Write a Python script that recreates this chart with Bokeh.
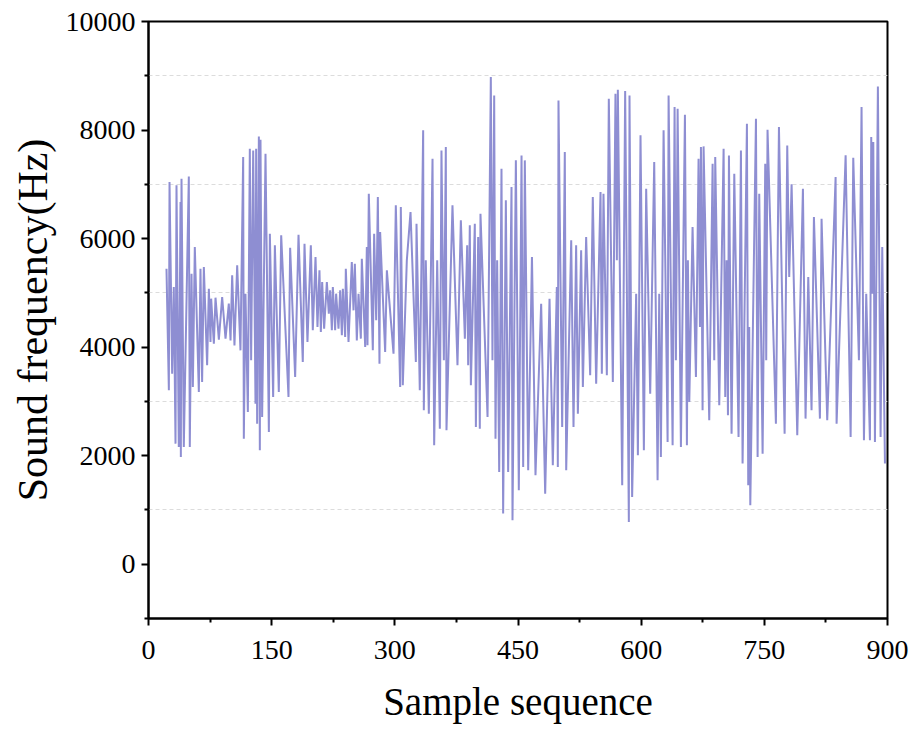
from bokeh.plotting import figure
from bokeh.models import FixedTicker, Range1d, Title
from bokeh.embed import file_html
from bokeh.resources import INLINE

# ---- data ----
sample_x = [
    21.9, 24.8, 25.6, 28.8, 30.8, 32.9, 34.1, 36.9, 39.0, 39.4, 40.2, 43.0, 49.1, 50.3, 52.4, 54.0,
    56.4, 61.3, 63.3, 65.3, 67.4, 71.4, 73.5, 75.5, 76.3, 79.6, 81.6, 85.7, 89.7, 93.8, 97.8, 99.9,
    101.9, 104.7, 108.0, 112.0, 115.3, 116.1, 118.1, 121.0, 123.4, 125.0, 127.5, 130.3, 131.1, 132.3,
    134.4, 135.6, 136.4, 138.4, 142.5, 146.6, 147.8, 151.8, 153.9, 158.7, 161.6,
    170.5, 172.5, 178.6, 182.7, 187.9, 190.0, 193.6, 197.7, 200.1, 203.4, 205.8, 208.2, 209.9, 211.5,
    213.9, 217.2, 219.6, 221.2, 223.3, 224.5, 227.3, 228.5, 231.4, 233.4, 235.5, 236.7, 239.5, 240.3,
    243.6, 247.6, 249.7, 251.3, 253.7, 255.8, 258.6, 259.8, 263.9, 265.9, 266.7, 268.3, 273.2, 274.8,
    277.3, 279.3, 281.3, 282.1, 288.2, 290.3, 298.4, 301.2, 306.5, 307.3, 309.7, 314.6,
    319.1, 325.6, 326.4, 330.4, 334.5, 335.3, 337.7, 341.4, 345.9, 347.9, 351.6, 354.8, 356.8, 359.7,
    362.1, 362.9, 370.2, 376.3, 380.4, 385.3, 388.1, 389.3, 391.3, 392.6, 397.4, 398.7, 401.5, 403.5,
    404.3, 412.9, 416.9, 418.9, 421.0, 422.6, 424.6, 427.1, 429.9, 431.9, 435.2, 438.0, 442.1, 443.3,
    447.4, 451.0, 454.3, 456.3, 458.3, 462.4, 467.0,
    471.3, 478.2, 483.1, 488.4, 492.4, 497.3, 498.5, 499.3, 503.8, 507.0, 508.7, 514.8, 517.6, 520.8,
    522.9, 526.9, 529.0, 533.0, 537.9, 541.1, 545.2, 550.5, 552.1, 554.1, 558.2, 560.6, 565.5, 568.7,
    570.4, 571.6, 576.9, 580.5, 585.0, 585.8, 589.0, 593.9, 596.0, 599.2, 603.3, 606.1, 611.0,
    615.9, 620.0, 622.0, 624.0, 627.3, 632.2, 633.4, 638.3, 640.7, 642.3, 644.4, 648.4, 653.3, 655.7,
    656.9, 658.6, 662.6, 666.7, 669.9, 671.6, 672.8, 674.8, 676.0, 682.9, 687.0, 689.0, 690.2, 695.1,
    700.4, 702.4, 704.0, 705.7, 706.9, 710.1, 713.4, 718.6, 721.5, 723.5, 728.8, 730.4, 731.6, 732.9,
    739.8, 741.8, 743.8, 747.9, 751.1, 752.3, 753.9, 764.1,
    767.8, 774.7, 777.9, 780.3, 783.2, 790.1, 797.0, 800.2, 803.5, 807.5, 810.4, 817.7, 819.7, 826.6,
    836.8, 838.0, 849.0, 855.1, 858.3, 865.2, 868.4, 871.3, 874.1, 878.6, 880.2, 881.4, 882.7, 884.7,
    888.3, 891.6, 893.6, 896.9,
]
sound_freq = [
    5445, 3204, 7042, 3512, 5108, 2222, 6981, 2161, 6674, 1977, 7103, 2161, 7146, 2161, 5353, 3266,
    5845, 3174, 5445, 3358, 5476, 3665, 5077, 4095, 4893, 4064, 4911, 4138, 4924, 4156, 4801, 4125,
    5323, 4033, 5507, 3941, 7502, 2314, 4985, 2806, 7656, 3757, 7625, 2959, 7656, 2590,
    7883, 2099, 7822, 2713, 7564, 2437, 6090, 3082, 5875, 3174, 6060,
    3082, 5832, 3450, 6072, 3726, 5906, 4095, 5875, 4310, 5660, 4371, 5415, 4279, 5200,
    4340, 5200, 4617, 5046, 4310, 5108, 4310, 4985, 4340, 5046, 4218, 5077, 4187, 5445,
    4095, 5568, 4678, 5538, 4125, 4985, 4156, 5630, 4003, 5845, 4033, 6827, 3941, 6090,
    4494, 6766, 3696, 6121, 3911, 5415, 3880, 6612, 3266, 6582, 3297, 5599,
    6489, 3726, 6274, 3204, 7994, 2836, 5599, 2775, 7472, 2191, 5599, 2498, 7625, 3757,
    7687, 2468, 6612, 3665, 6336, 4156, 5875, 3665, 6244, 3297, 6274, 2529, 6029, 2498,
    6459, 2713, 8976, 3757, 8638, 2314, 5599, 1700, 7288, 933, 6704, 1700, 6950, 810,
    7441, 1362, 7533, 1792, 7441, 1731, 5660,
    1639, 4801, 1301, 4893, 1823, 5108, 1792, 8546, 2529, 7595, 1731, 5967, 2529, 5875,
    2775, 5783, 3266, 6029, 3481, 6766, 3327, 6858, 3512, 6827, 3481, 8577, 3358, 8669,
    5599, 8743, 1455, 8718, 779, 8638, 1240, 4985, 2007, 7902, 2099, 6919, 3143,
    7410, 1547, 4985, 1977, 7994, 2253, 8638, 2191, 8423, 3757, 8393, 2161, 8282, 2191,
    5599, 2990, 6213, 3450, 7472, 4371, 7687, 2836, 7699, 2652, 7380, 3757, 7502, 2928,
    7656, 3082, 5599, 2744, 7533, 2406, 7195, 2345, 7625, 1854, 8116, 1455, 4371, 1086,
    8208, 1977, 6827, 2038, 7380, 3757, 8006, 2590,
    8055, 2406, 7717, 5293, 6999, 2376, 6919, 2683, 5293, 2836, 6397, 2683, 6366, 2652,
    7134, 2590, 7533, 2345, 7490, 3757, 8423, 2284, 4985, 2284, 7871, 4985, 7779, 2253,
    8804, 2345, 5845, 1854,
]

x_ticks = [0, 150, 300, 450, 600, 750, 900]
x_minor = [75, 225, 375, 525, 675, 825]
y_ticks = [0, 2000, 4000, 6000, 8000, 10000]
y_minor = [-1000, 1000, 3000, 5000, 7000, 9000]

x_title = "Sample sequence"
y_title = "Sound frequency(Hz)"

# ---- figure ----
p = figure(width=914, height=729, output_backend="svg", toolbar_location=None,
           x_range=Range1d(0, 900), y_range=Range1d(-1000, 10000),
           min_border_left=148, min_border_right=27, min_border_top=21, min_border_bottom=111)

p.line(sample_x, sound_freq, line_color="#8E8ED2", line_width=2)

FONT = "Liberation Serif"
for ax, ticks, minor in ((p.xaxis[0], x_ticks, x_minor), (p.yaxis[0], y_ticks, y_minor)):
    ax.ticker = FixedTicker(ticks=ticks, minor_ticks=minor)
    ax.major_label_text_font = FONT
    ax.major_label_text_font_size = "28px"
    ax.major_label_text_color = "black"
    ax.axis_line_color = "black"
    ax.axis_line_width = 2
    ax.major_tick_line_color = "black"
    ax.major_tick_line_width = 2
    ax.major_tick_out = 7
    ax.major_tick_in = 0
    ax.minor_tick_line_color = "black"
    ax.minor_tick_line_width = 2
    ax.minor_tick_out = 4
    ax.minor_tick_in = 0

p.yaxis[0].major_label_standoff = 6
p.xaxis[0].major_label_standoff = 15
p.xaxis[0].axis_label = x_title
p.xaxis[0].axis_label_text_font = FONT
p.xaxis[0].axis_label_text_font_style = "normal"
p.xaxis[0].axis_label_text_font_size = "39px"
p.xaxis[0].axis_label_text_color = "black"
p.xaxis[0].axis_label_standoff = 18

p.add_layout(Title(text=y_title, text_font=FONT, text_font_size="42px",
                   text_font_style="normal", text_color="black",
                   align="center", standoff=13), "left")

p.xgrid.grid_line_color = None
p.ygrid.ticker = FixedTicker(ticks=y_ticks, minor_ticks=y_minor)
p.ygrid.grid_line_color = None
p.ygrid.minor_grid_line_color = "#dcdcdc"
p.ygrid.minor_grid_line_dash = "4 3"
p.ygrid.minor_grid_line_width = 1

p.outline_line_color = "black"
p.outline_line_width = 2
p.background_fill_color = "white"
p.border_fill_color = "white"

open("out.html", "w").write(file_html(p, INLINE))
